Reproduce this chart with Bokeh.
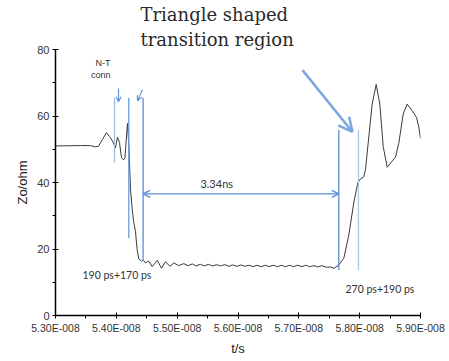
from bokeh.plotting import figure
from bokeh.embed import file_html
from bokeh.resources import INLINE
from bokeh.models import Arrow, OpenHead, Label, FixedTicker, Range1d, Title

# ---- data (time in ns, impedance in ohm) ----
t_ns = [53.00, 53.41, 53.575, 53.658, 53.707, 53.773, 53.838, 53.888, 53.937, 53.986,
        54.019, 54.052, 54.085, 54.118, 54.142, 54.167, 54.184, 54.208, 54.233, 54.261,
        54.282, 54.315, 54.343, 54.369, 54.414, 54.447, 54.479, 54.529, 54.59, 54.672,
        54.743, 54.808, 54.879, 54.945, 55.027, 55.109,
        55.18, 55.25, 55.31, 55.38, 55.45, 55.51, 55.58, 55.65, 55.71, 55.78,
        55.85, 55.91, 55.98, 56.05, 56.11, 56.18, 56.25, 56.31, 56.38, 56.45,
        56.51, 56.58, 56.65, 56.71, 56.78, 56.85, 56.91, 56.98, 57.05, 57.11,
        57.18, 57.25, 57.31, 57.38, 57.45, 57.52, 57.58, 57.657,
        57.739, 57.821, 57.904, 57.969, 58.014, 58.068, 58.096, 58.150, 58.206, 58.272,
        58.331, 58.387, 58.453, 58.507, 58.589, 58.643, 58.716, 58.781, 58.864, 58.934,
        58.972, 59.0]
zo = [51.0, 51.1, 51.1, 50.7, 50.9, 53.0, 55.0, 53.8, 52.5, 50.4,
      53.6, 52.0, 47.5, 46.8, 47.5, 54.0, 57.8, 50.0, 38.0, 32.0,
      28.5, 25.2, 19.6, 17.0, 16.4, 16.6, 15.8, 16.4, 14.7, 16.6,
      14.2, 16.2, 14.8, 15.8, 15.0, 15.6,
      15.0, 15.5, 14.9, 15.4, 14.9, 15.4, 14.9, 15.3, 14.9, 15.3,
      14.8, 15.2, 14.8, 15.2, 14.8, 15.1, 14.7, 15.1, 14.7, 15.1,
      14.7, 15.1, 14.7, 15.1, 14.7, 15.1, 14.7, 15.1, 14.7, 15.1,
      14.7, 15.0, 14.6, 15.0, 14.5, 14.6, 14.2, 15.2,
      17.2, 24.1, 34.0, 39.9, 41.1, 41.7, 43.9, 53.7, 63.6, 69.5,
      63.6, 50.8, 44.6, 45.8, 47.6, 51.8, 60.6, 63.6, 61.6, 59.6,
      56.7, 53.2]

x_ticks = [53, 54, 55, 56, 57, 58, 59]
x_minor = [53.5, 54.5, 55.5, 56.5, 57.5, 58.5]
x_tick_labels = ["5.30E-008", "5.40E-008", "5.50E-008", "5.60E-008",
                 "5.70E-008", "5.80E-008", "5.90E-008"]
y_ticks = [0, 20, 40, 60, 80]
y_minor = [10, 30, 50, 70]

heading = ["Triangle shaped", "transition region"]

# marker lines
marker_t = [53.97, 54.205, 54.44, 57.657, 57.98]
marker_y0 = [46.0, 23.3, 16.4, 13.7, 13.7]
marker_y1 = [65.5, 65.5, 65.5, 55.9, 55.9]
marker_col = ["#9dbde6", "#6a9ad6", "#5b8fd3", "#5b8fd3", "#a9c6ea"]

span_y = 36.6
span_label = "3.34ns"

BLUE = "#5b8fd3"

p = figure(width=445, height=358, output_backend="svg", toolbar_location=None,
           x_range=Range1d(53, 59), y_range=Range1d(0, 80),
           min_border_left=55, min_border_right=25, min_border_top=0, min_border_bottom=40)
p.outline_line_color = None
p.xgrid.visible = False
p.ygrid.visible = False
p.background_fill_color = "white"
p.border_fill_color = "white"

# two-line heading above the frame (default title is the outer line)
p.title.text = heading[0]
p.title.text_font = "DejaVu Serif"
p.title.text_font_size = "18px"
p.title.text_font_style = "normal"
p.title.text_color = "#2a2a2a"
p.title.align = "left"
p.title.offset = 85
p.title.standoff = 3
p.add_layout(Title(text=heading[1], text_font="DejaVu Serif", text_font_size="18px",
                   text_font_style="normal", text_color="#2a2a2a", align="left",
                   offset=85, standoff=0), "above")

p.line(t_ns, zo, line_color="#3a3a3a", line_width=1)

for t, a, b, c in zip(marker_t, marker_y0, marker_y1, marker_col):
    p.segment(x0=[t], y0=[a], x1=[t], y1=[b], line_color=c, line_width=1.3)

# double arrow 3.34ns
p.add_layout(Arrow(x_start=marker_t[2], y_start=span_y, x_end=marker_t[3], y_end=span_y,
                   line_color=BLUE, line_width=1.3,
                   start=OpenHead(size=7, line_color=BLUE, line_width=1.3),
                   end=OpenHead(size=7, line_color=BLUE, line_width=1.3)))
p.add_layout(Label(x=55.65, y=37.6, text=span_label, text_align="center",
                   text_baseline="bottom", text_font="Lato", text_font_size="11px",
                   text_color="#333333"))

# small arrows at N-T connector
p.add_layout(Arrow(x_start=54.036, y_start=68.3, x_end=54.036, y_end=64.3,
                   line_color=BLUE, line_width=1.1,
                   end=OpenHead(size=5, line_color=BLUE, line_width=1.1)))
p.add_layout(Arrow(x_start=54.43, y_start=67.9, x_end=54.348, y_end=64.6,
                   line_color=BLUE, line_width=1.1,
                   end=OpenHead(size=5, line_color=BLUE, line_width=1.1)))
p.add_layout(Label(x=53.904, y=75.9, text="N-T", text_align="right", text_baseline="middle",
                   text_font="Liberation Sans", text_font_size="9px", text_color="#333333"))
p.add_layout(Label(x=53.904, y=72.3, text="conn", text_align="right", text_baseline="middle",
                   text_font="Liberation Sans", text_font_size="9px", text_color="#333333"))

# big arrow toward triangle region
BIG = "#7ba7df"
p.add_layout(Arrow(x_start=57.06, y_start=73.8, x_end=57.882, y_end=55.2,
                   line_color=BIG, line_width=2.5,
                   end=OpenHead(size=14, line_color=BIG, line_width=2.5)))

# texts
p.add_layout(Label(x=53.444, y=12.1, text="190 ps+170 ps", text_align="left",
                   text_baseline="middle", text_font="Lato", text_font_size="10.5px",
                   text_color="#333333"))
p.add_layout(Label(x=57.767, y=8.0, text="270 ps+190 ps", text_align="left",
                   text_baseline="middle", text_font="Lato", text_font_size="10.5px",
                   text_color="#333333"))

# axes
p.xaxis.ticker = FixedTicker(ticks=x_ticks, minor_ticks=x_minor)
p.xaxis.major_label_overrides = {t: s for t, s in zip(x_ticks, x_tick_labels)}
p.yaxis.ticker = FixedTicker(ticks=y_ticks, minor_ticks=y_minor)
p.xaxis.axis_label = "t/s"
p.yaxis.axis_label = "Zo/ohm"
for ax in (p.xaxis[0], p.yaxis[0]):
    ax.axis_line_color = "black"
    ax.axis_line_width = 1.5
    ax.major_tick_line_color = "black"
    ax.minor_tick_line_color = "black"
    ax.major_tick_in = 3
    ax.major_tick_out = 3
    ax.minor_tick_in = 0
    ax.minor_tick_out = 3
    ax.major_label_text_font = "Liberation Sans"
    ax.major_label_text_color = "#333333"
    ax.major_label_standoff = 3
    ax.axis_label_text_font = "Liberation Sans"
    ax.axis_label_text_font_size = "13px"
    ax.axis_label_text_font_style = "normal"
    ax.axis_label_text_color = "#222222"
    ax.axis_label_standoff = 4
p.xaxis.major_label_text_font_size = "10.5px"
p.yaxis.major_label_text_font_size = "11px"

open("out.html", "w").write(file_html(p, INLINE))
